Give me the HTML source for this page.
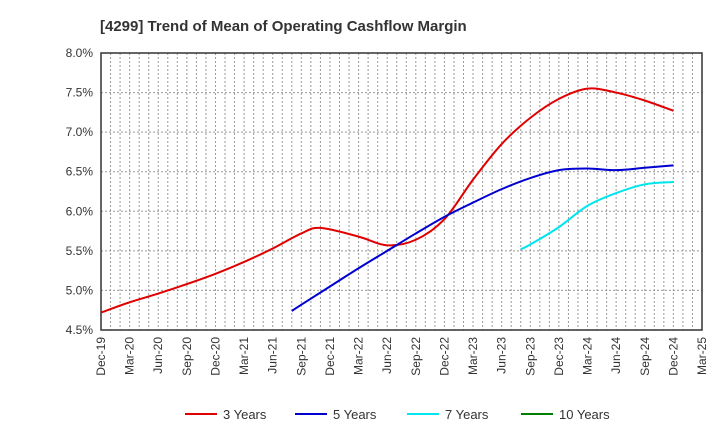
<!DOCTYPE html>
<html><head><meta charset="utf-8"><style>
body{margin:0;background:#fff;font-family:"Liberation Sans",sans-serif}
</style></head><body>
<svg id="c" width="720" height="440" xmlns="http://www.w3.org/2000/svg"></svg>
<script>
const labels=["Dec-19","Mar-20","Jun-20","Sep-20","Dec-20","Mar-21","Jun-21","Sep-21","Dec-21","Mar-22","Jun-22","Sep-22","Dec-22","Mar-23","Jun-23","Sep-23","Dec-23","Mar-24","Jun-24","Sep-24","Dec-24","Mar-25"];
const yTicks=[4.5,5.0,5.5,6.0,6.5,7.0,7.5,8.0];
const s3=[4.72,4.85,4.96,5.08,5.21,5.36,5.53,5.72,5.79,5.68,5.57,5.64,5.90,6.40,6.85,7.18,7.42,7.55,7.50,7.40,7.27];
const m3=[0,3,6,9,12,15,18,21,23,27,30,33,36,39,42,45,48,51,54,57,60];
const s5=[4.74,4.82,5.05,5.28,5.50,5.72,5.93,6.11,6.28,6.42,6.52,6.54,6.52,6.55,6.58];
const m5=[20,21,24,27,30,33,36,39,42,45,48,51,54,57,60];
const s7=[5.52,5.58,5.80,6.07,6.23,6.34,6.37];
const m7=[44,45,48,51,54,57,60];
const s10=[];
const m10=[];
const series=[{name:"3 Years",color:"#e00000",data:s3,m:m3},{name:"5 Years",color:"#0000d0",data:s5,m:m5},{name:"7 Years",color:"#00e5ee",data:s7,m:m7},{name:"10 Years",color:"#008000",data:s10,m:m10}];
const L=101,R=702,T=53,B=330,NM=63;
const XM=m=>L+m*(R-L)/NM, X=q=>XM(q*3), Y=v=>T+(8-v)*(B-T)/3.5;
const svg=document.getElementById('c');const ns="http://www.w3.org/2000/svg";
function mk(t,a,p){const e=document.createElementNS(ns,t);for(const k in a)e.setAttribute(k,a[k]);(p||svg).appendChild(e);return e;}
let t=mk('text',{x:100,y:31,'font-size':15,'font-weight':'bold',fill:'#333'});t.textContent="[4299]  Trend of Mean of Operating Cashflow Margin";

const g=mk('g',{});
for(let m=1;m<NM;m++){const x=XM(m);mk('line',{x1:x,x2:x,y1:T,y2:B,stroke:'#999','stroke-dasharray':'2,2','stroke-width':1},g);}
yTicks.forEach(v=>{const y=Y(v);if(v>4.5&&v<8)mk('line',{x1:L,x2:R,y1:y,y2:y,stroke:'#999','stroke-dasharray':'2,2'},g);
const tx=mk('text',{x:L-8,y:y+4,'font-size':12,'text-anchor':'end',fill:'#333'});tx.textContent=v.toFixed(1)+"%";
});
labels.forEach((l,i)=>{const x=X(i);const tx=mk('text',{x:0,y:0,'font-size':12,'text-anchor':'end',fill:'#333',transform:`translate(${x+4},${B+7}) rotate(-90)`});tx.textContent=l;
});
const fr=mk('rect',{x:L,y:T,width:R-L,height:B-T,fill:'none',stroke:'#333','stroke-width':1.5});

function path(pts){if(pts.length<2)return"";let d=`M${pts[0][0]},${pts[0][1]}`;for(let i=0;i<pts.length-1;i++){const p0=pts[Math.max(0,i-1)],p1=pts[i],p2=pts[i+1],p3=pts[Math.min(pts.length-1,i+2)];
d+=` C${p1[0]+(p2[0]-p0[0])/6},${p1[1]+(p2[1]-p0[1])/6} ${p2[0]-(p3[0]-p1[0])/6},${p2[1]-(p3[1]-p1[1])/6} ${p2[0]},${p2[1]}`;}return d;}
series.forEach((s,k)=>{const pts=s.data.map((v,i)=>[XM(s.m[i]),Y(v)]);
if(pts.length>1){const p=mk('path',{d:path(pts),fill:'none',stroke:s.color,'stroke-width':2});}
const lx=[185,295,407,521][k];const lg=mk('g',{});
mk('line',{x1:lx,x2:lx+32,y1:414,y2:414,stroke:s.color,'stroke-width':2},lg);
const tt=mk('text',{x:lx+38,y:419,'font-size':13,fill:'#333'},lg);tt.textContent=s.name;});
</script>
</body></html>
